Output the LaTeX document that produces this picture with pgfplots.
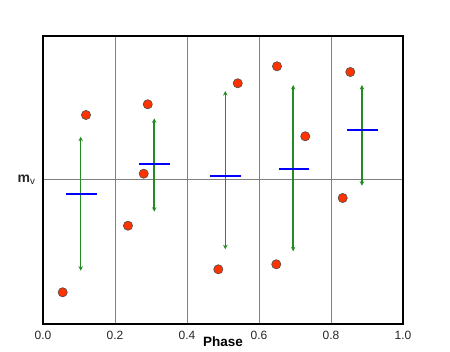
\documentclass[border=0pt]{standalone}
\usepackage{fontspec}
\setmainfont{Liberation Sans}
\usepackage{pgfplots}
\pgfplotsset{compat=1.18}
\usetikzlibrary{arrows.meta}
\definecolor{ptred}{RGB}{255,51,0}
\definecolor{arrgreen}{RGB}{34,139,34}
\begin{document}
\begin{tikzpicture}
\useasboundingbox (-43pt,-28pt) rectangle (407pt,324pt);
\begin{axis}[
 at={(0,0)}, anchor=south west,
 scale only axis, width=360pt, height=288pt,
 xmin=0, xmax=1, ymin=0, ymax=288,
 axis line style={line width=2.4pt},
 xtick={0,0.2,0.4,0.6,0.8,1},
 xticklabels={0.0,0.2,0.4,0.6,0.8,1.0},
 ytick={144}, yticklabels={\textbf{m}\textsubscript{v}},
 major tick length=0,
 xmajorgrids, ymajorgrids,
 grid style={gray, line width=1pt},
 tick label style={font=\fontsize{12}{14}\selectfont, text=black!85},
 xticklabel style={yshift=-4pt},
 yticklabel style={font=\fontsize{14}{16}\selectfont, xshift=-4pt},
 xlabel={\textbf{Phase}},
 xlabel style={font=\fontsize{13.5}{15}\selectfont, at={(axis description cs:0.5,0)}, anchor=center, yshift=-18pt},
 /pgf/number format/assume math mode=true,
 clip=false,
]
% green ranges
\addplot[arrgreen, line width=1.5pt, {Stealth[length=4.5pt,width=4.5pt]}-{Stealth[length=4.5pt,width=4.5pt]}] coordinates {(0.1047,53.3) (0.1047,187.3)};
\addplot[arrgreen, line width=1.5pt, {Stealth[length=4.5pt,width=4.5pt]}-{Stealth[length=4.5pt,width=4.5pt]}] coordinates {(0.309,112.3) (0.309,205.7)};
\addplot[arrgreen, line width=1.5pt, {Stealth[length=4.5pt,width=4.5pt]}-{Stealth[length=4.5pt,width=4.5pt]}] coordinates {(0.5065,74.7) (0.5065,233)};
\addplot[arrgreen, line width=1.5pt, {Stealth[length=4.5pt,width=4.5pt]}-{Stealth[length=4.5pt,width=4.5pt]}] coordinates {(0.695,72.7) (0.695,239)};
\addplot[arrgreen, line width=1.5pt, {Stealth[length=4.5pt,width=4.5pt]}-{Stealth[length=4.5pt,width=4.5pt]}] coordinates {(0.886,138.3) (0.886,239)};
% blue means
\addplot[blue, line width=2pt] coordinates {(0.064,130.3) (0.149,130.3)};
\addplot[blue, line width=2pt] coordinates {(0.266,160) (0.352,160)};
\addplot[blue, line width=2pt] coordinates {(0.465,148) (0.551,148)};
\addplot[blue, line width=2pt] coordinates {(0.655,155.3) (0.740,155.3)};
\addplot[blue, line width=2pt] coordinates {(0.844,194) (0.931,194)};
% observations
\addplot[only marks, mark=*, mark size=4.6pt, mark options={fill=ptred, draw=gray!60!black, line width=0.6pt}] coordinates {
(0.0547,31.7) (0.1194,209) (0.236,98.3) (0.2797,150.3) (0.291,219.7)
(0.487,54.7) (0.541,240.7) (0.648,59.7) (0.650,257.7) (0.7286,187.7)
(0.8325,126) (0.8536,252)
};
\end{axis}
\end{tikzpicture}
\end{document}
